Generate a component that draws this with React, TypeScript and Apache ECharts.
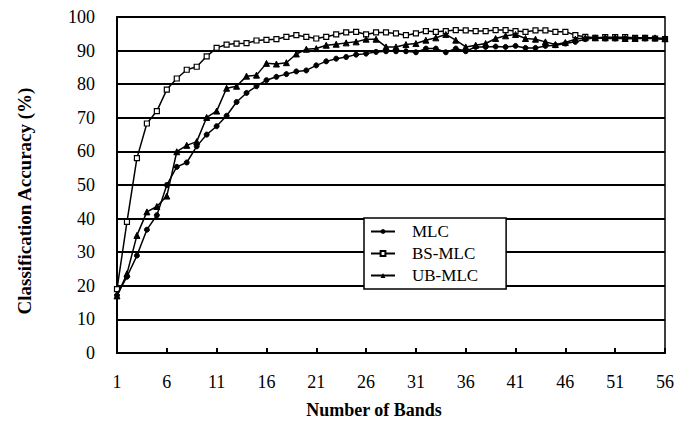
import React, { useEffect, useRef } from "react";
import * as echarts from "echarts";

const bands = [
  "1", "2", "3", "4", "5", "6", "7", "8", "9", "10",
  "11", "12", "13", "14", "15", "16", "17", "18", "19", "20",
  "21", "22", "23", "24", "25", "26", "27", "28", "29", "30",
  "31", "32", "33", "34", "35", "36", "37", "38", "39", "40",
  "41", "42", "43", "44", "45", "46", "47", "48", "49", "50",
  "51", "52", "53", "54", "55", "56",
];

const mlc = [
  17.2, 22.7, 29, 36.7, 41, 50, 55.4, 56.7, 61.5, 65,
  67.5, 70.6, 74.7, 77.4, 79.4, 81.2, 82.2, 83, 83.8, 84.1,
  85.6, 86.8, 87.6, 88.1, 88.8, 89.1, 89.6, 89.8, 89.8, 89.8,
  89.5, 90.6, 90.6, 89.5, 90.6, 89.8, 91.1, 91.1, 91.2, 91.1,
  91.4, 90.8, 90.8, 91.4, 91.6, 92.1, 92.6, 93.4, 93.8, 93.6,
  93.6, 93.6, 93.6, 93.6, 93.6, 93.4,
];

const bsMlc = [
  19, 39, 58, 68.3, 72, 78.4, 81.7, 84.3, 85.2, 88.3,
  90.8, 91.8, 92.1, 92.2, 93, 93.2, 93.4, 94.1, 94.6, 94.1,
  93.6, 94.1, 94.8, 95.4, 95.6, 94.8, 95.4, 95.4, 95.1, 94.6,
  95.1, 95.8, 95.6, 95.8, 96.1, 96, 95.8, 95.8, 96.1, 96.1,
  95.8, 95.6, 96, 96, 95.6, 95.6, 94.6, 94.1, 93.8, 94,
  94, 94, 93.8, 93.8, 93.6, 93.4,
];

const ubMlc = [
  17, 23.6, 35, 42, 43.6, 46.7, 59.9, 61.8, 62.9, 70.1,
  72, 78.8, 79.4, 82.4, 82.7, 86.2, 86, 86.4, 89, 90.4,
  90.6, 91.6, 91.9, 92.3, 92.6, 93.4, 93.4, 91.1, 91.1, 91.8,
  92.1, 93.1, 93.8, 94.8, 93.1, 91.1, 91.6, 92.1, 93.6, 94.4,
  94.8, 93.6, 93.4, 92.6, 91.8, 92.4, 93.4, 93.8, 93.8, 93.8,
  93.8, 93.6, 93.6, 93.8, 93.8, 93.6,
];

const seriesNames = ["MLC", "BS-MLC", "UB-MLC"];
const xTitle = "Number of Bands";
const yTitle = "Classification Accuracy (%)";

const FONT = "'Liberation Serif', 'Times New Roman', serif";

export default function App() {
  const ref = useRef<HTMLDivElement>(null);

  useEffect(() => {
    if (!ref.current) return;
    document.body.style.margin = "0";
    const chart = echarts.init(ref.current, null, { renderer: "svg" });
    const lineStyle = { color: "#000", width: 1.5 };
    chart.setOption({
      animation: false,
      backgroundColor: "#fff",
      textStyle: { fontFamily: FONT, color: "#000" },
      grid: {
        left: 117,
        right: 17,
        top: 17,
        bottom: 78,
        show: true,
        borderColor: "#000",
        borderWidth: 1.5,
        backgroundColor: "transparent",
      },
      xAxis: {
        type: "category",
        data: bands,
        boundaryGap: false,
        axisLine: { lineStyle: { color: "#000", width: 2 } },
        axisTick: {
          interval: 4,
          inside: true,
          length: 5,
          lineStyle: { color: "#000", width: 2 },
        },
        axisLabel: {
          interval: 4,
          fontFamily: FONT,
          fontSize: 18,
          color: "#000",
          margin: 20,
        },
        splitLine: { show: false },
      },
      yAxis: {
        type: "value",
        min: 0,
        max: 100,
        interval: 10,
        axisLine: { show: true, lineStyle: { color: "#000", width: 2 } },
        axisTick: { show: false },
        axisLabel: {
          fontFamily: FONT,
          fontSize: 18,
          color: "#000",
          margin: 22,
        },
        splitLine: { show: true, lineStyle: { color: "#000", width: 1.8 } },
      },
      legend: {
        orient: "vertical",
        left: 364,
        top: 218,
        data: seriesNames,
        backgroundColor: "#fff",
        borderColor: "#000",
        borderWidth: 1.5,
        borderRadius: 0,
        padding: [5, 28, 5, 6],
        itemGap: 5,
        itemWidth: 24,
        itemHeight: 6,
        textStyle: {
          fontFamily: FONT,
          fontSize: 17,
          color: "#000",
          padding: [0, 0, 0, 12],
        },
      },
      graphic: [
        {
          type: "text",
          x: 374,
          y: 410,
          style: {
            text: xTitle,
            font: `bold 18px ${FONT}`,
            fill: "#000",
            textAlign: "center",
            textVerticalAlign: "middle",
          },
        },
        {
          type: "text",
          x: 24,
          y: 201,
          rotation: Math.PI / 2,
          style: {
            text: yTitle,
            font: `bold 19px ${FONT}`,
            fill: "#000",
            textAlign: "center",
            textVerticalAlign: "middle",
          },
        },
      ],
      series: [
        {
          name: seriesNames[0],
          type: "line",
          data: mlc,
          symbol: "circle",
          symbolSize: 5,
          showAllSymbol: true,
          itemStyle: { color: "#000", borderColor: "#000" },
          lineStyle,
          z: 3,
        },
        {
          name: seriesNames[1],
          type: "line",
          data: bsMlc,
          symbol: "rect",
          symbolSize: 5,
          showAllSymbol: true,
          itemStyle: { color: "#fff", borderColor: "#000", borderWidth: 1.2 },
          lineStyle,
          z: 2,
        },
        {
          name: seriesNames[2],
          type: "line",
          data: ubMlc,
          symbol: "triangle",
          symbolSize: 6,
          showAllSymbol: true,
          itemStyle: { color: "#000", borderColor: "#000" },
          lineStyle,
          z: 4,
        },
      ],
    });
    return () => chart.dispose();
  }, []);

  return <div ref={ref} style={{ width: 682, height: 431 }} />;
}
